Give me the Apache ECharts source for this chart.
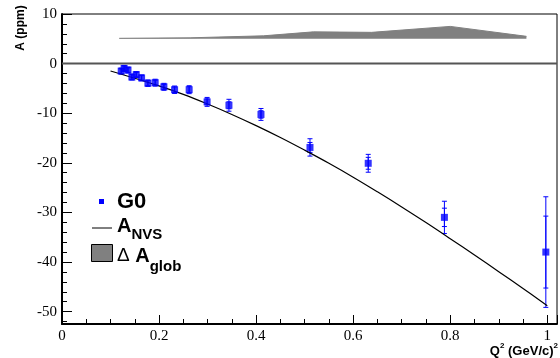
<!DOCTYPE html>
<html>
<head>
<meta charset="utf-8">
<script src="https://cdn.jsdelivr.net/npm/echarts@6/dist/echarts.min.js"></script>
<style>
  html, body { margin: 0; padding: 0; background: #fff; }
  #chart { width: 560px; height: 358px; }
</style>
</head>
<body>
<div id="chart"></div>
<script>
// G0 data points
const q2 = [0.122, 0.128, 0.136, 0.144, 0.153, 0.164, 0.177, 0.192, 0.210, 0.232, 0.262, 0.299, 0.344, 0.410, 0.511, 0.631, 0.788, 0.997];
const asym = [-1.51, -0.97, -1.30, -2.71, -2.22, -2.88, -3.95, -3.85, -4.68, -5.27, -5.26, -7.72, -8.40, -10.25, -16.9, -20.1, -31.0, -38.0];
const statErr = [0.45, 0.45, 0.45, 0.45, 0.45, 0.45, 0.5, 0.5, 0.5, 0.55, 0.6, 0.6, 0.7, 0.75, 1.0, 1.2, 1.85, 7.25];
const totErr = [0.6, 0.6, 0.6, 0.6, 0.6, 0.6, 0.65, 0.7, 0.7, 0.75, 0.8, 0.9, 1.2, 1.2, 1.75, 1.8, 3.25, 11.15];

// no-vector-strange curve
const nvsQ2 = [0.1, 0.15, 0.2, 0.25, 0.3, 0.35, 0.4, 0.45, 0.5, 0.55, 0.6, 0.65, 0.7, 0.75, 0.8, 0.85, 0.9, 0.95, 1.0];
const nvsA = [-1.5, -2.95, -4.5, -6.2, -8.15, -10.25, -12.5, -14.9, -17.45, -20.1, -22.9, -25.85, -28.9, -32.05, -35.3, -38.6, -41.95, -45.35, -48.8];

// global error band, drawn on top of a baseline of 5
const bandBase = 5;
const bandQ2 = [0.118, 0.264, 0.415, 0.518, 0.638, 0.800, 0.957];
const bandTop = [5.1, 5.2, 5.6, 6.4, 6.3, 7.5, 5.5];

const yMajor = [-50, -40, -30, -20, -10, 0, 10];
const yMinor = [];
for (let v = -52; v <= 10; v += 2) yMinor.push(v);

const blue = '#0000ff';
const serif = "'Liberation Serif', 'Times New Roman', serif";
const sans = "'Liberation Sans', Arial, Helvetica, sans-serif";

function zip(a, b, c) {
  return a.map(function (v, i) { return c ? [v, b[i], c[i]] : [v, b[i]]; });
}

function errBar(params, api) {
  const x = api.value(0), y = api.value(1), e = api.value(2);
  const top = api.coord([x, y + e]);
  const bot = api.coord([x, y - e]);
  const cap = 2.5;
  const st = { stroke: blue, lineWidth: 1 };
  return {
    type: 'group',
    children: [
      { type: 'line', shape: { x1: top[0], y1: top[1], x2: bot[0], y2: bot[1] }, style: st },
      { type: 'line', shape: { x1: top[0] - cap, y1: top[1], x2: top[0] + cap, y2: top[1] }, style: st },
      { type: 'line', shape: { x1: bot[0] - cap, y1: bot[1], x2: bot[0] + cap, y2: bot[1] }, style: st }
    ]
  };
}

const chart = echarts.init(document.getElementById('chart'), null, { renderer: 'canvas' });

const option = {
  animation: false,
  grid: {
    left: 62, right: 3, top: 14, bottom: 34,
    show: true, borderColor: '#000', borderWidth: 1, backgroundColor: 'transparent'
  },
  xAxis: {
    type: 'value', min: 0, max: 1.02, interval: 0.2,
    axisLine: { show: true, onZero: false, lineStyle: { color: '#000', width: 2 } },
    axisTick: { show: true, inside: true, length: 9, lineStyle: { color: '#000' } },
    minorTick: { show: true, splitNumber: 4, length: 5, lineStyle: { color: '#000' } },
    axisLabel: {
      color: '#000', fontFamily: serif, fontSize: 15, margin: 5,
      formatter: function (v) { return v > 1.001 ? '' : String(+v.toFixed(1)); }
    },
    splitLine: { show: false }
  },
  yAxis: [{
    type: 'value', min: -52.5, max: 10,
    axisLine: { show: true, onZero: false, lineStyle: { color: '#000', width: 2 } },
    axisTick: { show: true, inside: true, length: 10, customValues: yMajor, lineStyle: { color: '#000' } },
    axisLabel: { color: '#000', fontFamily: serif, fontSize: 15, margin: 5, customValues: yMajor },
    splitLine: { show: false }
  }, {
    type: 'value', min: -52.5, max: 10, position: 'left',
    axisLine: { show: false },
    axisTick: { show: true, inside: true, length: 5, customValues: yMinor, lineStyle: { color: '#000' } },
    axisLabel: { show: false },
    splitLine: { show: false }
  }],
  series: [
    {
      name: 'zero', type: 'line', silent: true, symbol: 'none',
      data: [[0, 0], [1.02, 0]],
      lineStyle: { color: '#555', width: 2 }
    },
    {
      name: 'ΔA_glob', type: 'line', silent: true, symbol: 'none',
      data: zip(bandQ2, bandTop),
      lineStyle: { color: '#808080', width: 1 },
      areaStyle: { color: '#808080', opacity: 1, origin: bandBase }
    },
    {
      name: 'A_NVS', type: 'line', silent: true, symbol: 'none', smooth: 0.4,
      data: zip(nvsQ2, nvsA),
      lineStyle: { color: '#000', width: 1.2 }
    },
    {
      name: 'total', type: 'custom', silent: true,
      renderItem: errBar, data: zip(q2, asym, totErr), z: 3
    },
    {
      name: 'stat', type: 'custom', silent: true,
      renderItem: errBar, data: zip(q2, asym, statErr), z: 3
    },
    {
      name: 'G0', type: 'scatter', symbol: 'rect', symbolSize: 7,
      data: zip(q2, asym),
      itemStyle: { color: blue }, z: 4
    }
  ],
  graphic: [
    {
      type: 'text', x: 21, y: 28, rotation: Math.PI / 2,
      style: { text: 'A (ppm)', font: 'bold 12px ' + sans, fill: '#000', align: 'center', verticalAlign: 'middle' }
    },
    {
      type: 'text', right: 2, top: 342,
      style: {
        text: '{b|Q}{s|2}{b| (GeV/c)}{s|2}',
        rich: {
          b: { font: 'bold 13px ' + sans, fill: '#000', lineHeight: 16, verticalAlign: 'bottom' },
          s: { font: 'bold 8px ' + sans, fill: '#000', lineHeight: 16, verticalAlign: 'top' }
        }
      }
    },
    // legend
    { type: 'rect', shape: { x: 99, y: 199, width: 5, height: 5 }, style: { fill: blue } },
    {
      type: 'text', x: 117, y: 202,
      style: { text: 'G0', font: 'bold 22px ' + sans, fill: '#000', verticalAlign: 'middle' }
    },
    { type: 'line', shape: { x1: 92, y1: 228, x2: 112, y2: 228 }, style: { stroke: '#000', lineWidth: 1 } },
    {
      type: 'text', x: 117, y: 216,
      style: {
        text: '{a|A}{s|NVS}',
        rich: {
          a: { font: 'bold 20px ' + sans, fill: '#000', lineHeight: 26, verticalAlign: 'top' },
          s: { font: 'bold 15px ' + sans, fill: '#000', lineHeight: 26, verticalAlign: 'bottom' }
        }
      }
    },
    { type: 'rect', shape: { x: 91.5, y: 244.5, width: 21, height: 17 }, style: { fill: '#808080', stroke: '#000', lineWidth: 1 } },
    {
      type: 'text', x: 117, y: 246,
      style: {
        text: '{d|Δ}{a| A}{s|glob}',
        rich: {
          d: { font: '19px ' + sans, fill: '#000', lineHeight: 28, verticalAlign: 'top' },
          a: { font: 'bold 20px ' + sans, fill: '#000', lineHeight: 28, verticalAlign: 'top' },
          s: { font: 'bold 15px ' + sans, fill: '#000', lineHeight: 28, verticalAlign: 'bottom' }
        }
      }
    }
  ]
};

chart.setOption(option);
</script>
</body>
</html>
